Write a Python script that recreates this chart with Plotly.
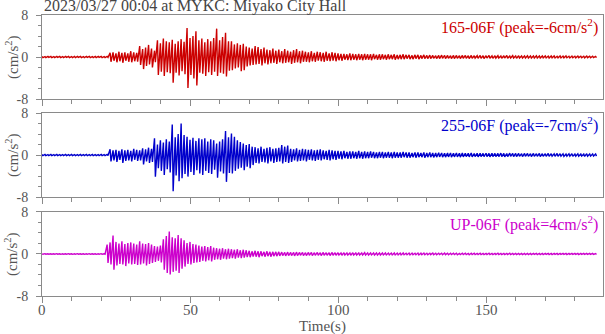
import numpy as np
import plotly.graph_objects as go

# ---------------- data (envelope read per 1-s bin: upper / lower extremes, cm/s^2) -------------
TITLE = "2023/03/27 00:04 at MYKC: Miyako City Hall"
CHANNELS = ["165-06F", "255-06F", "UP-06F"]
PEAKS = ["-6", "-7", "4"]
COLORS = ["#cc0000", "#0000cc", "#cc00cc"]
X_TICKS = [0, 50, 100, 150]
Y_TICKS = [-8, 0, 8]

RED_HI = [0.10,0.08,0.12,0.10,0.09,0.11,0.10,0.08,0.12,0.10,0.09,0.11,0.10,0.12,0.09,0.10,0.11,0.08,0.10,0.12,0.10,0.09,0.11,
          0.8,0.9,0.7,1.0,0.8,0.9,0.7,1.1,0.9,0.8,
          2.1,1.5,1.8,2.3,1.6,1.2,
          3.2,2.6,3.5,3.0,2.8,3.3,2.5,3.0,3.4,2.9,
          5.5,3.6,4.0,4.9,3.2,
          3.5,2.8,3.4,3.0,3.6,
          5.4,3.2,3.8,4.6,3.0,
          3.0,2.4,2.6,2.3,2.5,2.0,1.8,
          1.6,2.1,1.9,1.5,1.8,1.4,
          1.3,1.6,1.2,1.4,1.1,1.5,1.2,1.0,1.3,1.5,1.1,1.2,
          1.0,0.9,1.1,0.8,1.0,0.9,0.8,1.0,0.7,0.9,0.8,
          0.7,0.6,0.6,0.5,0.7,0.6,0.5,0.6,0.5,0.6,0.5,0.5,0.6,0.4,0.5,0.5,0.4,0.5,0.4,0.5,
          0.4,0.4,0.5,0.4,0.4,0.3,0.4,0.4,0.3,0.4,
          0.3,0.35,0.3,0.25,0.3,0.35,0.3,0.3,0.25,0.3,0.3,0.25,0.3,0.3,0.25,0.3,0.25,0.25,0.3,0.25,
          0.25,0.3,0.2,0.25,0.25,0.2,0.25,0.3,0.2,0.25,0.2,0.25,0.2,0.2,0.25,0.2,0.2,0.25,0.2,0.2,
          0.2,0.18,0.2,0.2,0.15,0.2,0.18,0.2,0.15,0.18,0.15,0.18,0.15,0.15,0.18,0.15,0.15,0.12]
RED_LO = [-0.10,-0.11,-0.09,-0.12,-0.10,-0.08,-0.11,-0.10,-0.09,-0.12,-0.10,-0.11,-0.08,-0.10,-0.12,-0.09,-0.10,-0.11,-0.10,-0.09,-0.12,-0.10,-0.10,
          -0.9,-0.7,-1.0,-0.8,-1.1,-0.7,-0.9,-1.0,-0.8,-0.9,
          -1.5,-2.3,-1.7,-1.4,-2.0,-1.0,
          -3.4,-2.8,-3.6,-2.9,-3.1,-4.9,-3.0,-3.5,-2.7,-3.3,
          -5.9,-3.4,-4.1,-5.4,-3.0,
          -3.2,-3.6,-2.9,-3.4,-2.8,
          -3.6,-3.0,-3.2,-3.7,-2.6,
          -2.5,-2.2,-2.0,-2.7,-2.5,-1.8,-1.6,
          -1.5,-1.4,-1.3,-1.6,-1.2,-1.4,
          -1.2,-1.1,-1.3,-1.0,-1.2,-1.1,-1.0,-1.3,-1.1,-1.0,-1.2,-0.9,
          -0.9,-1.0,-0.8,-0.9,-0.7,-0.8,-0.9,-0.7,-0.8,-0.7,-0.8,
          -0.6,-0.7,-0.5,-0.6,-0.6,-0.5,-0.6,-0.5,-0.6,-0.5,-0.5,-0.6,-0.4,-0.5,-0.5,-0.4,-0.5,-0.4,-0.4,-0.5,
          -0.4,-0.4,-0.4,-0.3,-0.4,-0.4,-0.3,-0.4,-0.3,-0.3,
          -0.3,-0.3,-0.25,-0.3,-0.3,-0.25,-0.3,-0.25,-0.3,-0.3,-0.25,-0.3,-0.25,-0.25,-0.3,-0.25,-0.2,-0.25,-0.25,-0.3,
          -0.2,-0.25,-0.25,-0.2,-0.2,-0.25,-0.2,-0.25,-0.2,-0.2,-0.25,-0.2,-0.2,-0.2,-0.18,-0.2,-0.2,-0.18,-0.2,-0.15,
          -0.18,-0.2,-0.15,-0.18,-0.15,-0.18,-0.15,-0.15,-0.18,-0.15,-0.15,-0.12,-0.15,-0.15,-0.12,-0.15,-0.12,-0.12]

BLUE_HI = [0.10,0.12,0.09,0.11,0.10,0.12,0.10,0.09,0.11,0.10,0.12,0.10,0.09,0.11,0.10,0.12,0.10,0.11,0.09,0.10,0.12,0.10,0.11,
           1.1,0.9,1.0,0.8,1.1,0.9,1.0,0.8,1.2,1.0,0.9,1.3,1.1,1.4,1.2,
           3.2,2.0,2.8,2.4,3.0,2.6,
           5.8,3.4,4.0,6.0,3.8,
           3.5,2.9,3.3,2.7,3.2,
           3.0,3.2,2.6,3.0,2.8,
           2.2,2.6,3.0,4.6,3.4,
           4.1,3.5,2.8,2.5,
           2.2,1.9,2.1,1.6,
           1.5,1.3,1.6,1.2,1.4,1.5,1.2,1.3,1.4,
           1.9,1.6,1.8,
           1.2,1.1,1.3,1.0,1.2,1.1,1.0,1.1,0.9,1.0,1.1,0.9,0.8,1.0,0.9,0.8,
           0.8,0.7,0.8,0.6,0.7,0.7,0.6,0.8,0.6,0.7,0.6,0.7,0.6,0.5,0.6,0.6,0.5,0.6,0.5,0.6,
           0.5,0.5,0.6,0.5,0.5,0.4,0.5,0.5,0.4,0.5,
           0.4,0.5,0.4,0.4,0.45,0.4,0.35,0.4,0.4,0.35,0.4,0.35,0.4,0.35,0.35,0.4,0.3,0.35,0.35,0.3,
           0.35,0.3,0.35,0.3,0.3,0.35,0.3,0.3,0.35,0.3,0.3,0.3,0.25,0.3,0.3,0.25,0.3,0.25,0.3,0.25,
           0.25,0.3,0.25,0.25,0.3,0.25,0.25,0.2,0.25,0.25,0.2,0.25,0.2,0.2,0.25,0.2,0.2,0.2]
BLUE_LO = [-0.10,-0.09,-0.12,-0.10,-0.11,-0.09,-0.10,-0.12,-0.10,-0.11,-0.09,-0.10,-0.12,-0.10,-0.09,-0.11,-0.10,-0.12,-0.10,-0.11,-0.09,-0.10,-0.10,
           -1.2,-1.0,-1.3,-0.9,-1.5,-1.1,-1.0,-1.2,-0.9,-1.1,-1.0,-1.8,-1.2,-1.5,-1.3,
           -4.1,-2.5,-3.0,-3.8,-2.7,-3.3,
           -6.9,-3.9,-5.0,-4.4,-3.6,
           -4.1,-3.2,-3.8,-2.9,-3.5,
           -3.8,-3.0,-3.4,-3.6,-2.8,
           -4.3,-3.1,-3.5,-5.1,-3.4,
           -3.5,-3.0,-2.6,-2.4,
           -2.9,-2.2,-2.5,-1.9,
           -1.5,-1.6,-1.3,-1.4,-1.6,-1.2,-1.5,-1.3,-1.2,
           -1.6,-1.3,-1.5,
           -1.3,-1.0,-1.2,-1.1,-1.0,-1.2,-0.9,-1.0,-1.1,-0.9,-1.0,-0.8,-0.9,-1.0,-0.8,-0.9,
           -0.7,-0.8,-0.6,-0.7,-0.7,-0.6,-0.7,-0.6,-0.7,-0.6,-0.6,-0.5,-0.6,-0.6,-0.5,-0.6,-0.5,-0.5,-0.6,-0.5,
           -0.5,-0.5,-0.4,-0.5,-0.5,-0.4,-0.5,-0.4,-0.4,-0.5,
           -0.4,-0.4,-0.45,-0.4,-0.35,-0.4,-0.4,-0.35,-0.4,-0.35,-0.35,-0.4,-0.35,-0.3,-0.35,-0.35,-0.3,-0.35,-0.3,-0.3,
           -0.3,-0.35,-0.3,-0.3,-0.3,-0.3,-0.35,-0.3,-0.25,-0.3,-0.3,-0.25,-0.3,-0.25,-0.25,-0.3,-0.25,-0.25,-0.3,-0.25,
           -0.25,-0.25,-0.2,-0.25,-0.25,-0.2,-0.25,-0.2,-0.2,-0.25,-0.2,-0.2,-0.2,-0.25,-0.2,-0.2,-0.2,-0.2]

MAG_HI = [0.05,0.06,0.05,0.04,0.05,0.06,0.05,0.05,0.04,0.06,0.05,0.05,0.06,0.04,0.05,0.05,0.06,0.05,0.04,0.05,0.06,0.05,
          1.8,2.2,3.5,2.3,2.0,2.4,1.9,2.1,2.2,2.0,1.8,2.4,2.0,1.9,2.1,1.8,
          1.5,1.4,1.6,
          2.8,3.4,4.3,3.2,3.0,3.6,3.0,
          2.6,2.1,2.3,1.9,1.8,
          1.6,1.4,1.5,1.3,1.5,1.2,
          1.1,1.0,1.1,0.9,1.0,0.9,0.8,0.9,0.7,0.8,0.7,
          0.6,0.5,0.6,0.5,0.5,0.4,0.5,0.4,0.4,0.4,0.4,
          0.35,0.3,0.35,0.3,0.3,0.35,0.3,0.3,0.25,0.3,0.3,0.25,0.3,0.25,0.3,0.25,0.25,0.3,0.25,
          0.25,0.2,0.25,0.2,0.2,0.25,0.2,0.2,0.2,0.25,0.2,0.2,0.18,0.2,0.2,0.18,0.2,0.18,0.18,0.2,
          0.18,0.18,0.2,0.15,0.18,0.18,0.15,0.18,0.15,0.18,0.15,0.15,0.18,0.15,0.15,0.15,0.18,0.15,0.15,0.15,
          0.15,0.12,0.15,0.15,0.12,0.15,0.15,0.12,0.15,0.12,0.12,0.15,0.12,0.12,0.15,0.12,0.12,0.12,0.15,0.12,
          0.12,0.12,0.1,0.12,0.12,0.1,0.12,0.12,0.1,0.12,0.1,0.12,0.1,0.1,0.12,0.1,0.1,0.12,0.1,0.1,
          0.1,0.1,0.12,0.1,0.1,0.1,0.1,0.08]
MAG_LO = [-0.05,-0.04,-0.06,-0.05,-0.05,-0.04,-0.06,-0.05,-0.05,-0.04,-0.06,-0.05,-0.04,-0.05,-0.06,-0.05,-0.05,-0.04,-0.06,-0.05,-0.05,-0.05,
          -1.7,-2.0,-3.0,-2.2,-1.9,-2.0,-2.3,-1.8,-2.0,-1.9,-2.1,-2.0,-1.8,-2.2,-1.9,-1.7,
          -1.5,-1.3,-1.6,
          -3.0,-3.6,-3.9,-3.4,-3.2,-3.6,-2.8,
          -2.4,-1.9,-2.0,-1.7,-1.6,
          -1.5,-1.3,-1.4,-1.2,-1.4,-1.1,
          -1.0,-1.1,-0.9,-1.0,-0.9,-0.8,-0.9,-0.7,-0.8,-0.7,-0.6,
          -0.6,-0.5,-0.5,-0.6,-0.4,-0.5,-0.4,-0.5,-0.4,-0.4,-0.35,
          -0.3,-0.35,-0.3,-0.3,-0.35,-0.3,-0.25,-0.3,-0.3,-0.25,-0.3,-0.25,-0.25,-0.3,-0.25,-0.25,-0.3,-0.25,-0.25,
          -0.2,-0.25,-0.2,-0.2,-0.25,-0.2,-0.2,-0.2,-0.2,-0.18,-0.2,-0.18,-0.2,-0.18,-0.2,-0.18,-0.18,-0.15,-0.18,-0.18,
          -0.15,-0.18,-0.15,-0.15,-0.18,-0.15,-0.15,-0.18,-0.15,-0.15,-0.15,-0.12,-0.15,-0.15,-0.12,-0.15,-0.12,-0.15,-0.12,-0.12,
          -0.15,-0.12,-0.12,-0.12,-0.15,-0.12,-0.12,-0.1,-0.12,-0.12,-0.1,-0.12,-0.12,-0.1,-0.1,-0.12,-0.1,-0.1,-0.12,-0.1,
          -0.1,-0.1,-0.1,-0.12,-0.1,-0.1,-0.08,-0.1,-0.1,-0.1,-0.08,-0.1,-0.1,-0.08,-0.1,-0.08,-0.08,-0.1,-0.08,-0.08,
          -0.08,-0.1,-0.08,-0.08,-0.08,-0.08,-0.08,-0.08]

SERIES = [(RED_HI, RED_LO), (BLUE_HI, BLUE_LO), (MAG_HI, MAG_LO)]

# ---------------- figure ----------------
FONT = "Liberation Serif"
GRAY = "#8a8a8a"
TXT = "#555555"
DOMAINS = [[0.701, 1.0], [0.352, 0.651], [0.0, 0.299]]

fig = go.Figure()
for k, (hi, lo) in enumerate(SERIES):
    n = min(len(hi), len(lo))
    t = np.arange(n, dtype=float)  # 1-s bins
    xs, ys = [], []
    for i in range(n):
        xs += [t[i], t[i] + 0.3]
        ys += [hi[i], lo[i]]
    sfx = "" if k == 0 else str(k + 1)
    fig.add_trace(go.Scatter(x=xs, y=ys, mode="lines",
                             line=dict(color=COLORS[k], width=1.4),
                             xaxis="x" + sfx, yaxis="y" + sfx,
                             showlegend=False, hoverinfo="skip"))

layout = dict(width=605, height=334, margin=dict(l=42, r=2, t=15, b=38),
              paper_bgcolor="white", plot_bgcolor="white",
              font=dict(family=FONT, size=15, color=TXT), showlegend=False)

annotations = []
for k in range(3):
    sfx = "" if k == 0 else str(k + 1)
    layout["xaxis" + sfx] = dict(
        domain=[0, 1], anchor="y" + sfx, range=[0, 189.5],
        showline=True, linecolor=GRAY, linewidth=1, mirror=True,
        ticks="outside", ticklen=6, tickcolor=GRAY, tickwidth=1,
        tickvals=X_TICKS, showticklabels=False,
        minor=dict(dtick=10, tick0=0, ticks="outside", ticklen=4, tickcolor=GRAY),
        showgrid=False, zeroline=False)
    layout["yaxis" + sfx] = dict(
        domain=DOMAINS[k], anchor="x" + sfx, range=[-8, 8],
        showline=True, linecolor=GRAY, linewidth=1, mirror=True,
        ticks="outside", ticklen=5, tickcolor=GRAY, tickwidth=1,
        tickvals=Y_TICKS, ticktext=[str(v) for v in Y_TICKS], ticklabelstandoff=5,
        minor=dict(dtick=2, tick0=0, ticks="outside", ticklen=3, tickcolor=GRAY),
        showgrid=False, zeroline=False,
        tickfont=dict(family=FONT, size=14, color=TXT))
    d0, d1 = DOMAINS[k]
    annotations.append(dict(
        text=f"{CHANNELS[k]} (peak={PEAKS[k]}cm/s<sup>2</sup>)",
        xref="paper", yref="paper", x=1, y=d1, xanchor="right", yanchor="top",
        xshift=-3, yshift=1, showarrow=False,
        font=dict(family=FONT, size=16, color=COLORS[k])))
    annotations.append(dict(
        text="(cm/s<sup>2</sup>)", textangle=-90,
        xref="paper", yref="paper", x=0, y=(d0 + d1) / 2, xanchor="center", yanchor="middle",
        xshift=-30, showarrow=False, font=dict(family=FONT, size=15, color=TXT)))

# x tick labels of the bottom panel, placed through the bottom x axis
for v in X_TICKS:
    annotations.append(dict(text=str(v), xref="x3", yref="paper", x=v, y=0,
                            xanchor="center", yanchor="middle", yshift=-14, showarrow=False,
                            font=dict(family=FONT, size=15, color=TXT)))

annotations.append(dict(text=TITLE, xref="paper", yref="paper", x=0, y=1,
                        xanchor="left", yanchor="middle", yshift=9, showarrow=False,
                        font=dict(family=FONT, size=16, color="#444444")))
annotations.append(dict(text="Time(s)", xref="paper", yref="paper", x=0.5, y=0,
                        xanchor="center", yanchor="middle", yshift=-30, showarrow=False,
                        font=dict(family=FONT, size=15, color=TXT)))
layout["annotations"] = annotations
fig.update_layout(**layout)
fig.write_html("out.html")
